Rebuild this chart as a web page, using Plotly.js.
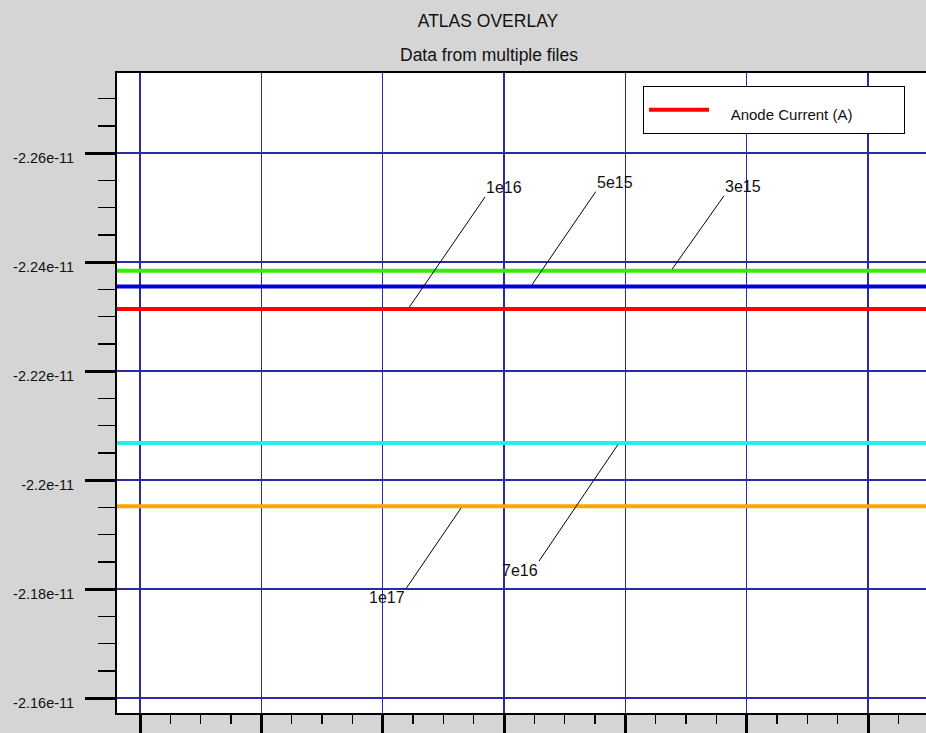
<!DOCTYPE html>
<html>
<head>
<meta charset="utf-8">
<script src="https://cdn.plot.ly/plotly-3.0.1.min.js"></script>
<style>
  html, body { margin: 0; padding: 0; background: #d5d5d5; }
  #chart { width: 926px; height: 733px; }
</style>
</head>
<body>
<div id="chart"></div>
<script>
// ---- data ----
const sweepX = [-1, 7];
const dopingLabels = ['3e15', '5e15', '1e16', '7e16', '1e17'];
const anodeCurrent3e15 = [-2.2384e-11, -2.2384e-11];
const anodeCurrent5e15 = [-2.2355e-11, -2.2355e-11];
const anodeCurrent1e16 = [-2.2314e-11, -2.2314e-11];
const anodeCurrent7e16 = [-2.2068e-11, -2.2068e-11];
const anodeCurrent1e17 = [-2.1952e-11, -2.1952e-11];
const seriesColors = ['#33ee00', '#0000dd', '#ff0000', '#22eeee', '#ffa500'];
const yTickVals = [-2.26e-11, -2.24e-11, -2.22e-11, -2.2e-11, -2.18e-11, -2.16e-11];
const yTickText = ['-2.26e-11', '-2.24e-11', '-2.22e-11', '-2.2e-11', '-2.18e-11', '-2.16e-11'];
// label anchor positions along the sweep (data x) for each doping curve
const labelAnchorX = [4.376, 3.22, 2.209, 3.948, 2.656];
const legendName = 'Anode Current (A)';

const seriesY = [anodeCurrent3e15, anodeCurrent5e15, anodeCurrent1e16, anodeCurrent7e16, anodeCurrent1e17];

const NB = '\u00a0';
const legendLabel = '<span style="font-size:15px">' + NB.repeat(4) + legendName + NB.repeat(11) + '</span>';

const traces = seriesY.map((ys, i) => ({
  x: sweepX,
  y: ys,
  type: 'scatter',
  mode: 'lines',
  name: i === 2 ? legendLabel : legendName,
  showlegend: i === 2,
  line: { color: seriesColors[i], width: 4 },
  hoverinfo: 'skip'
}));

// label offsets (pixels) and anchoring
const labelStyle = [
  { ax: 53, ay: -75, xanchor: 'left', yanchor: 'bottom' },
  { ax: 65, ay: -95, xanchor: 'left', yanchor: 'bottom' },
  { ax: 77, ay: -112, xanchor: 'left', yanchor: 'bottom' },
  { ax: -80, ay: 118, xanchor: 'right', yanchor: 'top' },
  { ax: -56, ay: 82, xanchor: 'right', yanchor: 'top' }
];

const annotations = dopingLabels.map((lbl, i) => ({
  x: labelAnchorX[i],
  y: seriesY[i][0],
  xref: 'x', yref: 'y',
  text: lbl,
  showarrow: true,
  arrowhead: 0,
  arrowwidth: 1,
  arrowcolor: '#000',
  standoff: 2,
  ax: labelStyle[i].ax,
  ay: labelStyle[i].ay,
  xanchor: labelStyle[i].xanchor,
  yanchor: labelStyle[i].yanchor,
  borderpad: 0,
  font: { family: 'Arial, Liberation Sans, sans-serif', size: 16, color: '#111' }
}));

annotations.push({
  xref: 'paper', yref: 'paper',
  x: (489 - 117) / 809, y: 1 + (73 - 55) / 640,
  xanchor: 'center', yanchor: 'middle',
  text: 'Data from multiple files',
  showarrow: false,
  font: { family: 'Arial, Liberation Sans, sans-serif', size: 17.5, color: '#111' }
});

const layout = {
  width: 926,
  height: 733,
  paper_bgcolor: '#d5d5d5',
  plot_bgcolor: '#ffffff',
  margin: { l: 117, r: 0, t: 73, b: 20, pad: 0 },
  title: {
    text: 'ATLAS OVERLAY',
    x: 488 / 926, xanchor: 'center', xref: 'container',
    y: 1 - 21 / 733, yanchor: 'middle', yref: 'container',
    font: { family: 'Arial, Liberation Sans, sans-serif', size: 17.5, color: '#111' }
  },
  showlegend: true,
  legend: {
    x: (643 - 117) / 809, y: 1 - (86 - 73) / 640,
    xanchor: 'left', yanchor: 'top',
    bgcolor: '#ffffff',
    bordercolor: '#000000',
    borderwidth: 1,
    itemwidth: 60,
    font: { family: 'Arial, Liberation Sans, sans-serif', size: 25, color: '#111' }
  },
  xaxis: {
    range: [-0.19, 6.478],
    tickmode: 'linear', tick0: 0, dtick: 1,
    showticklabels: false,
    showgrid: true, gridcolor: '#2a2aa8', gridwidth: 1.5,
    zeroline: false,
    showline: true, linecolor: '#000', linewidth: 2, mirror: true,
    ticks: 'outside', ticklen: 20, tickwidth: 3, tickcolor: '#000',
    minor: { tickmode: 'linear', tick0: 0, dtick: 0.25, ticks: 'outside', ticklen: 9, tickwidth: 1.5, tickcolor: '#000', showgrid: false }
  },
  yaxis: {
    range: [-2.15725e-11, -2.2747e-11],
    tickmode: 'array', tickvals: yTickVals, ticktext: yTickText,
    showgrid: true, gridcolor: '#2a2aa8', gridwidth: 1.5,
    zeroline: false,
    showline: true, linecolor: '#000', linewidth: 2, mirror: false,
    ticks: 'outside', ticklen: 30, tickwidth: 3, tickcolor: '#000',
    ticklabelstandoff: 8,
    ticklabelshift: -5,
    tickfont: { family: 'Arial, Liberation Sans, sans-serif', size: 14.5, color: '#111' },
    minor: { tickmode: 'linear', tick0: -2.26e-11, dtick: 0.005e-11, ticks: 'outside', ticklen: 17, tickwidth: 1.5, tickcolor: '#000', showgrid: false }
  },
  annotations: annotations
};

Plotly.newPlot('chart', traces, layout, { displayModeBar: false, staticPlot: true });
</script>
</body>
</html>
